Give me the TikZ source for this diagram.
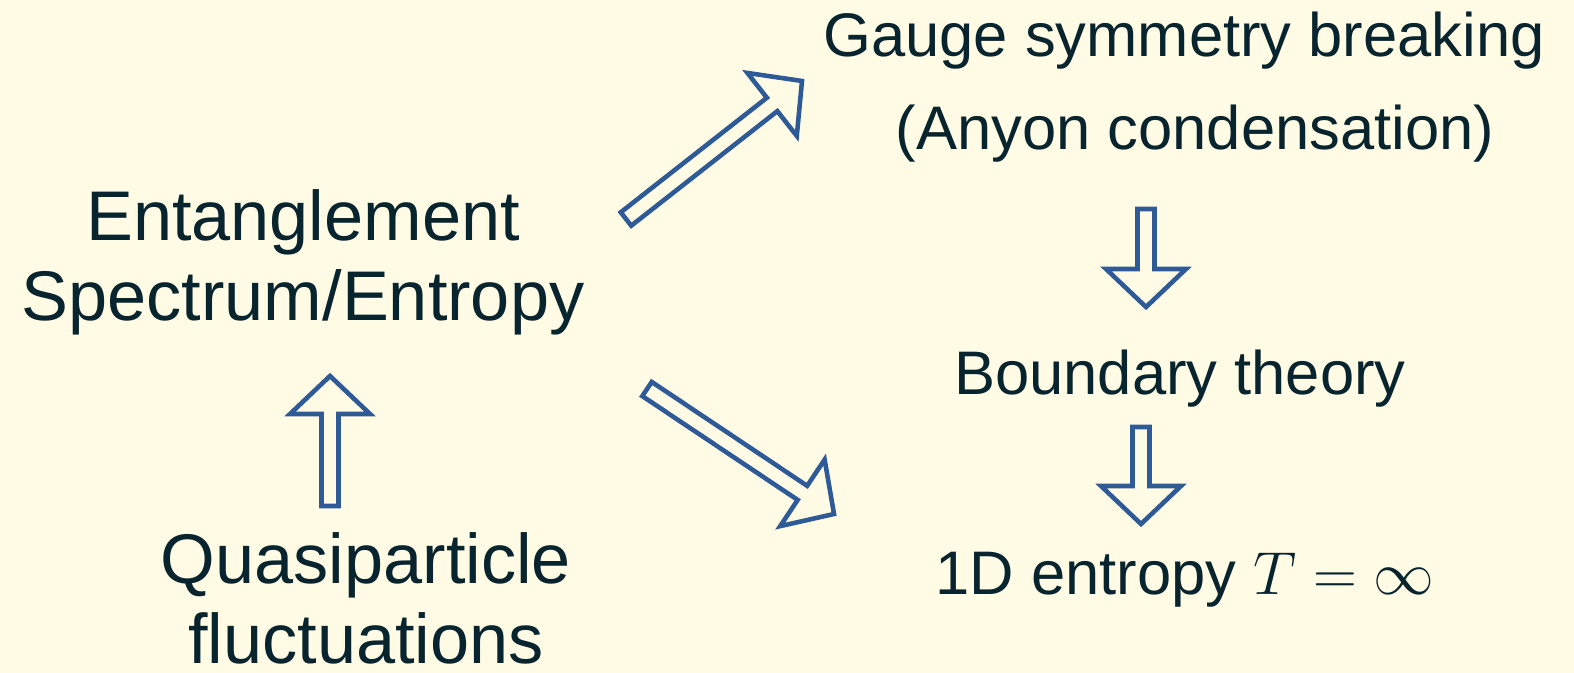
\documentclass[tikz,border=0pt]{standalone}
\usepackage[no-math]{fontspec}
\setmainfont{Liberation Sans}
\usepackage{tikz}
\usetikzlibrary{calc}
\definecolor{inkteal}{RGB}{8,36,46}
\definecolor{paper}{RGB}{255,251,228}
\definecolor{flowblue}{RGB}{46,90,152}

\begin{document}
\begin{tikzpicture}[
  big/.style={text=inkteal, inner sep=0pt, align=center, font=\fontsize{20}{22.8}\selectfont},
  small/.style={text=inkteal, inner sep=0pt, anchor=base, font=\fontsize{17.5}{21}\selectfont},
  % outlined block arrow from tail to tip
  hollow/.style={draw=flowblue, line width=1.3pt, line join=miter, fill=paper,
    to path={
      ($(\tikztostart)!0.085cm!90:(\tikztotarget)$)
      -- ($(\tikztotarget)!0.38cm!(\tikztostart)!0.085cm!90:(\tikztotarget)$)
      -- ($(\tikztotarget)!0.38cm!(\tikztostart)!0.4cm!90:(\tikztotarget)$)
      -- (\tikztotarget)
      -- ($(\tikztotarget)!0.38cm!(\tikztostart)!0.4cm!-90:(\tikztotarget)$)
      -- ($(\tikztotarget)!0.38cm!(\tikztostart)!0.085cm!-90:(\tikztotarget)$)
      -- ($(\tikztostart)!0.085cm!-90:(\tikztotarget)$)
      -- cycle}}
]
\fill[paper] (0,0) rectangle (15.74,6.73);
\useasboundingbox (0,0) rectangle (15.74,6.73);

\node[big] (ent) at (3.03,4.11) {Entanglement\\Spectrum/Entropy};
\node[big] (quasi) at (3.66,0.75) {Quasiparticle\\fluctuations};
\node[small] (gauge) at (11.84,6.16) {Gauge symmetry breaking};
\node[small] (anyon) at (11.95,5.23) {(Anyon condensation)};
\node[small] (bdry) at (11.80,2.78) {Boundary theory};
\node[small] (oned) at (11.85,0.78) {1D entropy $T=\infty$};

% arrow ends
\coordinate (qtail) at (3.30,1.67);
\coordinate (qtip) at (3.30,2.97);
\coordinate (gtail) at (6.26,4.54);
\coordinate (gtip) at (8.02,5.92);
\coordinate (etail) at (6.47,2.84);
\coordinate (etip) at (8.34,1.59);
\coordinate (atail) at (11.46,4.64);
\coordinate (atip) at (11.46,3.66);
\coordinate (btail) at (11.41,2.46);
\coordinate (btip) at (11.41,1.49);

\draw[hollow] (qtail) to (qtip);
\draw[hollow] (gtail) to (gtip);
\draw[hollow] (etail) to (etip);
\draw[hollow] (atail) to (atip);
\draw[hollow] (btail) to (btip);
\end{tikzpicture}
\end{document}
